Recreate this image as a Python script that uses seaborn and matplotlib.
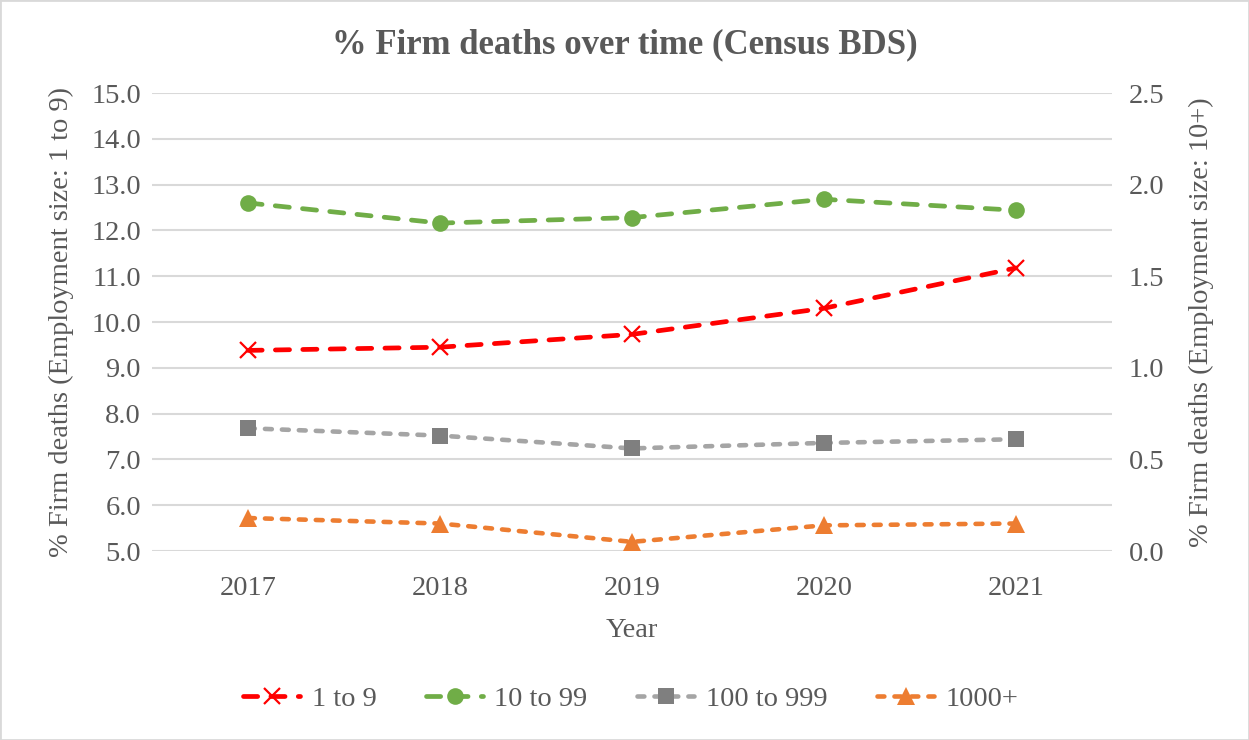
import matplotlib
matplotlib.use("Agg")
import matplotlib.pyplot as plt
import matplotlib.patches as patches
import seaborn as sns

# valores
years = ["2017", "2018", "2019", "2020", "2021"]
size_1_9 = [9.38, 9.45, 9.73, 10.30, 11.18]        # eje izquierdo
size_10_99 = [1.90, 1.79, 1.82, 1.92, 1.86]        # eje derecho
size_100_999 = [0.67, 0.63, 0.56, 0.59, 0.61]      # eje derecho
size_1000 = [0.18, 0.15, 0.05, 0.14, 0.15]         # eje derecho

left_ticks = [5.0, 6.0, 7.0, 8.0, 9.0, 10.0, 11.0, 12.0, 13.0, 14.0, 15.0]
right_ticks = [0.0, 0.5, 1.0, 1.5, 2.0, 2.5]

sns.set_theme(style="white")
plt.rcParams["font.family"] = ["Liberation Serif", "DejaVu Serif"]

text_c = "#595959"
grid_c = "#D9D9D9"
fs = 20.5

fig = plt.figure(figsize=(12.49, 7.40), dpi=100)
ax = fig.add_axes([0.1217, 0.2554, 0.7686, 0.6189])
ax2 = ax.twinx()

x = list(range(len(years)))
long_dash = (0, (3, 2.8))
short_dash = (0, (1.5, 2.2))

sns.lineplot(x=x, y=size_1_9, ax=ax, color="#FF0000", lw=3.4,
             linestyle=long_dash, dash_capstyle="round",
             marker="x", markersize=12, markeredgewidth=1.6,
             markeredgecolor="#FF0000", label="1 to 9", legend=False, zorder=3)
sns.lineplot(x=x, y=size_10_99, ax=ax2, color="#70AD47", lw=3.4,
             linestyle=long_dash, dash_capstyle="round",
             marker="o", markersize=12, markeredgewidth=0,
             label="10 to 99", legend=False)
sns.lineplot(x=x, y=size_100_999, ax=ax2, color="#A5A5A5", lw=3.3,
             linestyle=short_dash, dash_capstyle="round",
             marker="s", markersize=11, markerfacecolor="#7F7F7F",
             markeredgewidth=0, label="100 to 999", legend=False)
sns.lineplot(x=x, y=size_1000, ax=ax2, color="#ED7D31", lw=3.3,
             linestyle=short_dash, dash_capstyle="round",
             marker="^", markersize=13, markeredgewidth=0,
             label="1000+", legend=False)

ax.set_xlim(-0.5, len(years) - 0.5)
ax.set_ylim(left_ticks[0], left_ticks[-1])
ax2.set_ylim(right_ticks[0], right_ticks[-1])
ax.set_xticks(x)
ax.set_xticklabels(years)
ax.set_yticks(left_ticks)
ax.set_yticklabels([f"{v:.1f}" for v in left_ticks])
ax2.set_yticks(right_ticks)
ax2.set_yticklabels([f"{v:.1f}" for v in right_ticks])

ax.grid(axis="y", color=grid_c, lw=1.5)
ax.grid(axis="x", visible=False)
ax2.grid(False)
ax.set_axisbelow(True)
for a in (ax, ax2):
    for s in a.spines.values():
        s.set_visible(False)
    a.tick_params(length=0, labelsize=fs, labelcolor=text_c)
ax.tick_params(axis="x", pad=18)
ax.tick_params(axis="y", pad=8)
ax2.tick_params(axis="y", pad=12)

ax.set_xlabel("Year", fontsize=fs, color=text_c, labelpad=12)
ax.set_ylabel("% Firm deaths (Employment size: 1 to 9)", fontsize=fs, color=text_c, labelpad=12)
ax2.set_ylabel("% Firm deaths (Employment size: 10+)", fontsize=fs, color=text_c, labelpad=18)

fig.suptitle("% Firm deaths over time (Census BDS)", fontsize=25, fontweight="bold",
             color=text_c, y=0.962)

handles = ax.get_lines()[:1] + ax2.get_lines()[:3]
fig.legend(handles, [h.get_label() for h in handles], loc="center",
           bbox_to_anchor=(0.505, 0.055), ncol=4, frameon=False, fontsize=fs,
           handlelength=2.0, columnspacing=1.75, handletextpad=0.4,
           labelcolor=text_c)

fig.patches.append(patches.Rectangle((0, 0), 1, 1, transform=fig.transFigure,
                                     fill=False, ec=grid_c, lw=2))

fig.savefig("out.png", dpi=100)
